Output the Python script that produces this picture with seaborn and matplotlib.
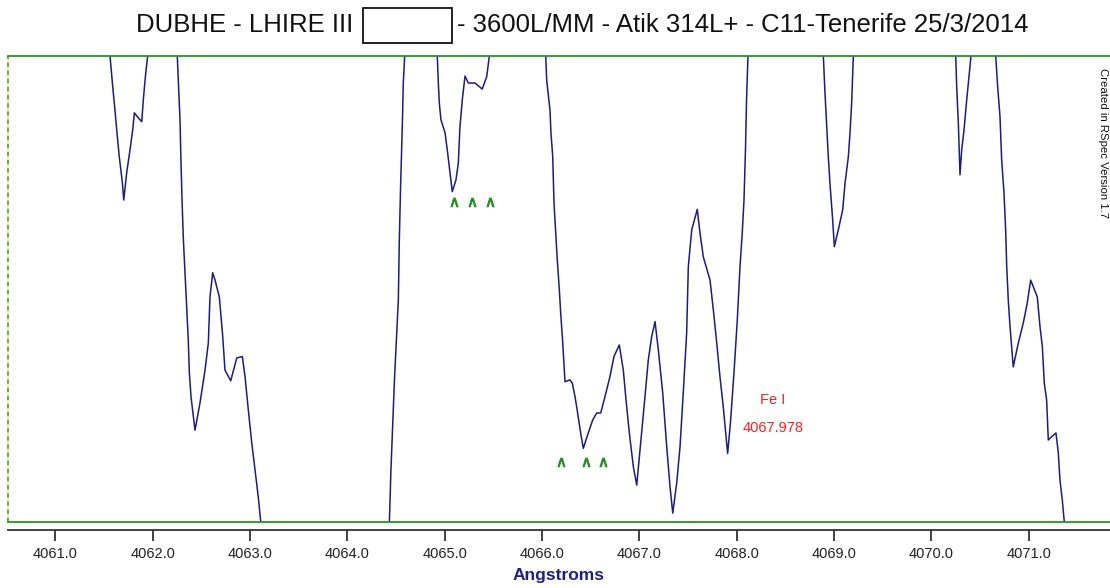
import numpy as np
import pandas as pd
import matplotlib
matplotlib.use("Agg")
import matplotlib.pyplot as plt
from matplotlib.patches import Rectangle
import seaborn as sns

# ---------------- data ----------------
title_left = "DUBHE - LHIRE III"
title_right = "- 3600L/MM - Atik 314L+ - C11-Tenerife 25/3/2014"
xlabel = "Angstroms"
side_note = "Created in RSpec Version 1.7"

wavelength = [
    4060.514, 4061.048, 4061.459,
    4061.562, 4061.593, 4061.613, 4061.631, 4061.657, 4061.688, 4061.703, 4061.733,
    4061.767, 4061.795, 4061.812, 4061.842, 4061.888, 4061.904, 4061.929, 4061.949,
    4062.096,
    4062.253, 4062.264, 4062.281, 4062.291, 4062.302, 4062.315, 4062.332, 4062.350,
    4062.366, 4062.377, 4062.394, 4062.435, 4062.486, 4062.538, 4062.572, 4062.589,
    4062.617, 4062.641, 4062.685, 4062.720, 4062.743, 4062.802, 4062.864, 4062.921,
    4062.949, 4062.983, 4063.018, 4063.052, 4063.085, 4063.110,
    4063.514, 4064.028,
    4064.432, 4064.448, 4064.484, 4064.524, 4064.534, 4064.548, 4064.565, 4064.575, 4064.589,
    4064.749,
    4064.924, 4064.935, 4064.945, 4064.962, 4065.004, 4065.027, 4065.055, 4065.078,
    4065.116, 4065.140, 4065.157, 4065.181, 4065.209, 4065.243, 4065.312, 4065.386,
    4065.432, 4065.459,
    4065.722,
    4066.038, 4066.048, 4066.082, 4066.092, 4066.110, 4066.123, 4066.143, 4066.157,
    4066.178, 4066.192, 4066.213, 4066.236, 4066.287, 4066.311, 4066.339, 4066.366,
    4066.397, 4066.424, 4066.475, 4066.521, 4066.562, 4066.603, 4066.647, 4066.698,
    4066.739, 4066.794, 4066.835, 4066.863, 4066.897, 4066.938, 4066.973, 4067.007,
    4067.048, 4067.092, 4067.127, 4067.161, 4067.195, 4067.240, 4067.281, 4067.315,
    4067.343, 4067.384, 4067.418, 4067.451, 4067.486, 4067.503, 4067.538, 4067.595,
    4067.623, 4067.657, 4067.726, 4067.760, 4067.795, 4067.828, 4067.862, 4067.907,
    4067.938, 4067.972, 4068.006, 4068.034, 4068.057, 4068.075, 4068.090, 4068.101,
    4068.116,
    4068.546,
    4068.890, 4068.907, 4068.925, 4068.941, 4068.958, 4068.986, 4069.003, 4069.044,
    4069.089, 4069.113, 4069.147, 4069.164, 4069.181, 4069.198,
    4069.730,
    4070.250, 4070.260, 4070.277, 4070.294, 4070.311, 4070.335, 4070.363, 4070.386, 4070.407,
    4070.530,
    4070.661, 4070.681, 4070.705, 4070.722, 4070.746, 4070.763, 4070.774, 4070.790,
    4070.808, 4070.841, 4070.893, 4070.944, 4070.985, 4071.020, 4071.047, 4071.088,
    4071.116, 4071.140, 4071.160, 4071.184, 4071.201, 4071.236, 4071.280, 4071.304,
    4071.321, 4071.345, 4071.365,
    4071.630, 4071.835,
]

intensity = [
    1.20, 1.15, 1.10,
    1.000, 0.927, 0.884, 0.841, 0.784, 0.730, 0.691, 0.749,
    0.798, 0.841, 0.878, 0.870, 0.859, 0.906, 0.964, 1.000,
    1.08,
    1.000, 0.945, 0.863, 0.773, 0.691, 0.609, 0.537, 0.462,
    0.391, 0.320, 0.269, 0.197, 0.255, 0.326, 0.384, 0.483,
    0.535, 0.519, 0.483, 0.398, 0.326, 0.303, 0.352, 0.355,
    0.312, 0.240, 0.170, 0.112, 0.054, 0.001,
    -0.10, -0.12,
    0.000, 0.112, 0.305, 0.476, 0.605, 0.727, 0.852, 0.942, 1.000,
    1.08,
    1.000, 0.942, 0.899, 0.863, 0.835, 0.798, 0.749, 0.709,
    0.734, 0.770, 0.848, 0.906, 0.957, 0.942, 0.942, 0.929,
    0.956, 1.000,
    1.10,
    1.000, 0.948, 0.884, 0.835, 0.784, 0.685, 0.612, 0.562,
    0.498, 0.448, 0.384, 0.301, 0.305, 0.298, 0.269, 0.234,
    0.191, 0.158, 0.191, 0.219, 0.234, 0.234, 0.269, 0.312,
    0.355, 0.380, 0.326, 0.262, 0.191, 0.119, 0.079, 0.155,
    0.247, 0.348, 0.398, 0.430, 0.369, 0.277, 0.162, 0.076,
    0.019, 0.084, 0.162, 0.277, 0.406, 0.548, 0.627, 0.671,
    0.620, 0.569, 0.519, 0.455, 0.384, 0.312, 0.247, 0.147,
    0.219, 0.320, 0.433, 0.548, 0.620, 0.691, 0.798, 0.906,
    1.000,
    1.10,
    1.000, 0.921, 0.848, 0.784, 0.727, 0.648, 0.591, 0.627,
    0.670, 0.727, 0.784, 0.835, 0.899, 1.000,
    1.15,
    1.000, 0.934, 0.856, 0.745, 0.798, 0.841, 0.906, 0.956, 1.000,
    1.05,
    1.000, 0.934, 0.870, 0.777, 0.706, 0.627, 0.548, 0.476,
    0.419, 0.333, 0.384, 0.427, 0.470, 0.519, 0.505, 0.483,
    0.419, 0.376, 0.298, 0.262, 0.176, 0.183, 0.191, 0.148,
    0.090, 0.047, 0.001,
    -0.10, -0.12,
]

# green line-marker carets
caret_wl = [4065.099, 4065.284, 4065.466, 4066.192, 4066.452, 4066.630]
caret_val = [0.687, 0.687, 0.687, 0.129, 0.129, 0.129]

# identified line
line_name = "Fe I"
line_wl = "4067.978"
label_x = 4068.37
label_y_name = 0.262
label_y_wl = 0.201

x_ticks = [4061.0, 4062.0, 4063.0, 4064.0, 4065.0, 4066.0,
           4067.0, 4068.0, 4069.0, 4070.0, 4071.0]
x_range = (4060.514, 4071.835)
y_range = (0.0, 1.0)

# ---------------- plot ----------------
sns.set_theme(style="white")
plt.rcParams["font.family"] = ["Liberation Sans", "DejaVu Sans"]

W, H = 1110, 588
fig = plt.figure(figsize=(W / 100, H / 100), dpi=100)
fig.patch.set_facecolor("white")

ax_l, ax_r, ax_t, ax_b = 8, 1110, 56, 522
ax = fig.add_axes([ax_l / W, (H - ax_b) / H, (ax_r - ax_l) / W, (ax_b - ax_t) / H])
ax.set_facecolor("white")

df = pd.DataFrame({"wl": wavelength, "val": intensity})
sns.lineplot(data=df, x="wl", y="val", ax=ax, color="#1b1b8a",
             linewidth=1.1, sort=False, estimator=None)

ax.set_xlim(*x_range)
ax.set_ylim(*y_range)
ax.set_xticks([])
ax.set_yticks([])
ax.set_xlabel("")
ax.set_ylabel("")

green = "#1f9a1f"
for s in ("top", "bottom"):
    ax.spines[s].set_color(green)
    ax.spines[s].set_linewidth(1.3)
    ax.spines[s].set_visible(True)
ax.spines["left"].set_visible(False)
ax.spines["right"].set_visible(False)
# dotted green/yellow left frame edge
ax.plot([0, 0], [0, 1], transform=ax.transAxes, color="#5aa83c",
        linestyle=(0, (2.5, 2)), gapcolor="#f2ef8a", linewidth=1.3,
        clip_on=False)

# carets
ax.scatter(caret_wl, caret_val, marker=r"$\wedge$", s=40, color="#1a8f1a",
           linewidths=0.6, zorder=3)

# identified line label
ax.text(label_x, label_y_name, line_name, color="#ff2020", fontsize=10.5,
        ha="center", va="center")
ax.text(label_x, label_y_wl, line_wl, color="#ff2020", fontsize=10.5,
        ha="center", va="center")

# x axis drawn slightly below the plot frame
sec = ax.secondary_xaxis(-8 / (ax_b - ax_t))
sec.set_xticks(x_ticks)
sec.set_xticklabels([f"{t:.1f}" for t in x_ticks])
sec.spines["bottom"].set_color("#333333")
sec.spines["bottom"].set_linewidth(1.3)
sec.tick_params(axis="x", direction="out", length=8, width=1.3, color="#333333",
                labelsize=10.5, labelcolor="#222222", pad=4)
sec.set_xlabel(xlabel, fontsize=12.5, fontweight="bold", color="#1f1f8c",
               labelpad=5)

# side note
fig.text(1103 / W, 1 - 68 / H, side_note, rotation=270, fontsize=8.2,
         color="#111111", ha="center", va="top")

# title with empty box
ty = 1 - 25 / H
fig.text(353 / W, ty, title_left, fontsize=18.5, ha="right", va="center",
         color="#111111")
fig.text(457 / W, ty, title_right, fontsize=18.5, ha="left", va="center",
         color="#111111")
fig.patches.append(Rectangle((363 / W, 1 - 43 / H), 89 / W, 35 / H,
                             transform=fig.transFigure, fill=False,
                             edgecolor="#111111", linewidth=1.3))

fig.savefig("out.png", dpi=100, facecolor="white")
